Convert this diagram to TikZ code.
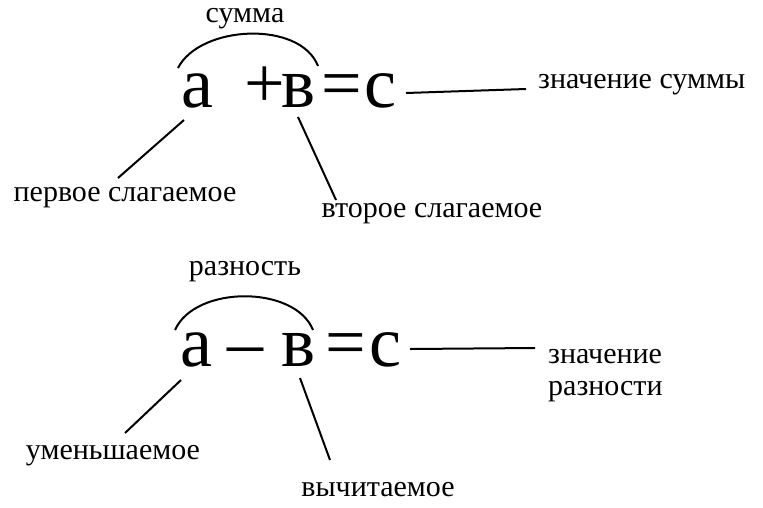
\documentclass[tikz,border=0pt]{standalone}
\usepackage{fontspec}
\setmainfont{Liberation Serif}
\begin{document}
\begin{tikzpicture}[x=1pt,y=-1pt,
 lbl/.style={font=\fontsize{30}{34}\selectfont,inner sep=0pt},
 big/.style={font=\fontsize{72}{74}\selectfont,inner sep=0pt,anchor=base},
 ln/.style={line width=2pt}]
\useasboundingbox (0,0) rectangle (763,507);
% top
\node[big] (a1) at (197,107) {а};
\node[big] (p1) at (265,107) {+};
\node[big] (b1) at (298,107) {в};
\node[big] (e1) at (342,107) {=};
\node[big] (c1) at (380,107) {с};
\node[lbl] (s1) at (245,19) {сумма};
\node[lbl,anchor=west] (v1) at (538,85) {значение суммы};
\node[lbl] (f1) at (125,198) {первое слагаемое};
\node[lbl] (f2) at (432,214) {второе слагаемое};
\coordinate (a1t) at (178,68); \coordinate (b1t) at (318,66);
\draw[ln] (a1t) .. controls (200,25) and (300,20) .. (b1t);
\coordinate (a1b) at (184,120); \coordinate (f1t) at (118,178);
\draw[ln] (a1b) -- (f1t);
\coordinate (b1b) at (298,117); \coordinate (f2t) at (336,200);
\draw[ln] (b1b) -- (f2t);
\coordinate (c1r) at (406,93); \coordinate (v1l) at (526,89);
\draw[ln] (c1r) -- (v1l);
% bottom
\node[big] (a2) at (196,366) {а};
\node[big] (m2) at (245,366) {–};
\node[big] (b2) at (298,366) {в};
\node[big] (e2) at (346,366) {=};
\node[big] (c2) at (385,366) {с};
\node[lbl] (s2) at (245,272) {разность};
\node[lbl,anchor=west] (v2) at (548,357) {значение};
\node[lbl,anchor=west] (v3) at (548,392) {разности};
\node[lbl] (u2) at (113,456) {уменьшаемое};
\node[lbl] (w2) at (378,490) {вычитаемое};
\coordinate (a2t) at (175,330); \coordinate (b2t) at (313,330);
\draw[ln] (a2t) .. controls (195,285) and (295,285) .. (b2t);
\coordinate (a2b) at (181,380); \coordinate (u2t) at (125,433);
\draw[ln] (a2b) -- (u2t);
\coordinate (b2b) at (300,378); \coordinate (w2t) at (330,460);
\draw[ln] (b2b) -- (w2t);
\coordinate (c2r) at (410,349); \coordinate (v2l) at (535,348);
\draw[ln] (c2r) -- (v2l);
\end{tikzpicture}
\end{document}
